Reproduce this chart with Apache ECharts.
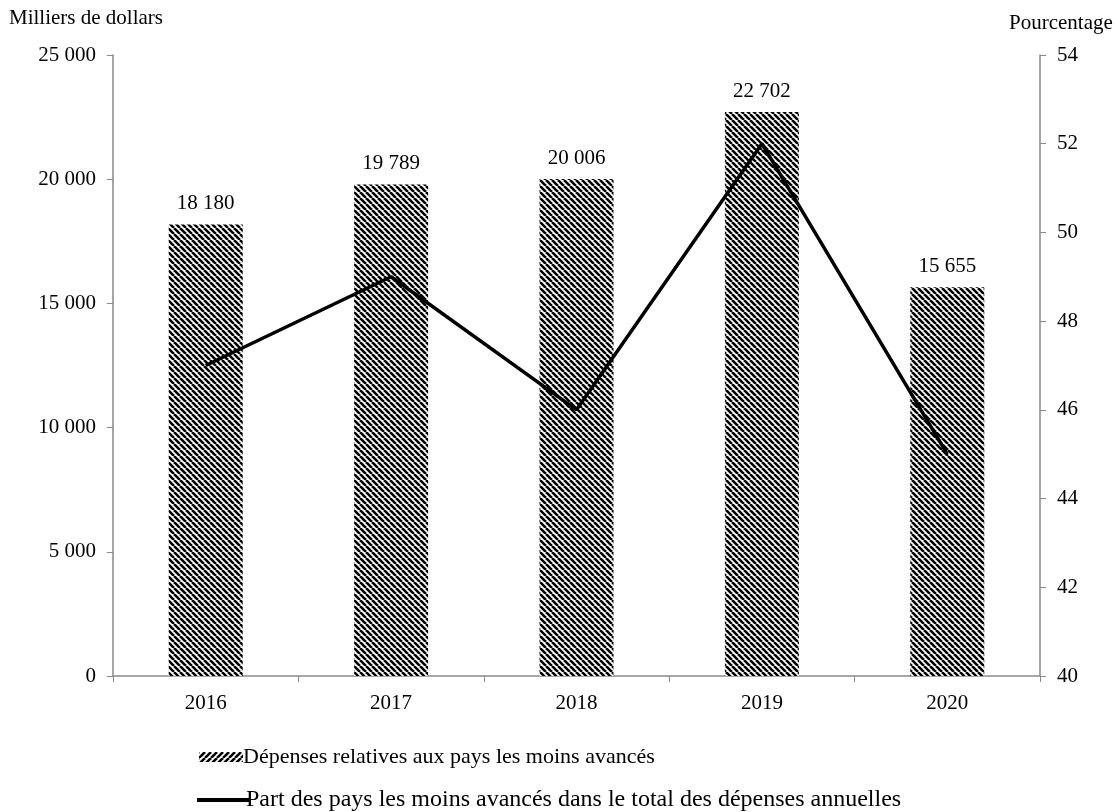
<!DOCTYPE html>
<html><head><meta charset="utf-8">
<script src="https://cdn.jsdelivr.net/npm/echarts@6/dist/echarts.min.js"></script>
<style>html,body{margin:0;padding:0;background:#fff}#c{width:1115px;height:812px}</style>
</head><body><div id="c"></div>
<script>
const categories = ['2016','2017','2018','2019','2020'];
const depenses = [18180, 19789, 20006, 22702, 15655];
const part = [47, 49, 46, 52, 45];
const barName = 'Dépenses relatives aux pays les moins avancés';
const lineName = 'Part des pays les moins avancés dans le total des dépenses annuelles';

function makePattern(dir, size, lw) {
  const c = document.createElement('canvas');
  c.width = size; c.height = size;
  const g = c.getContext('2d');
  g.fillStyle = '#fff'; g.fillRect(0,0,size,size);
  g.strokeStyle = '#000'; g.lineWidth = lw;
  g.beginPath();
  for (let k = -1; k <= 1; k++) {
    if (dir === '\\') { g.moveTo(k*size, 0); g.lineTo(k*size+size, size); }
    else { g.moveTo(k*size, size); g.lineTo(k*size+size, 0); }
  }
  g.stroke();
  return c;
}
const barPat = {image: makePattern('\\', 6, 2.6), repeat: 'repeat'};
const legPat = {image: makePattern('/', 6, 2.6), repeat: 'repeat'};
const fmt = v => String(v).replace(/\B(?=(\d{3})+(?!\d))/g, ' ');
const font = 'Liberation Serif';
const FS = 21;
const chart = echarts.init(document.getElementById('c'));
chart.setOption({
  animation: false,
  textStyle: {fontFamily: font},
  grid: {left: 113, right: 75, top: 55, bottom: 136},
  graphic: [
    {type: 'text', left: 9, top: 8, style: {text: 'Milliers de dollars', font: '21px "Liberation Serif"', fill: '#000'}},
    {type: 'text', left: 1009, top: 13, style: {text: 'Pourcentage', font: '21px "Liberation Serif"', fill: '#000'}}
  ],
  legend: [
    {data: [{name: barName, itemStyle: {color: legPat}}], left: 194, top: 741, orient: 'vertical', itemWidth: 44, itemHeight: 10, itemGap: 4, icon: 'rect',
     textStyle: {fontFamily: font, fontSize: 22, color: '#000', padding: [0,0,0,-5]}},
    {data: [{name: lineName, icon: 'rect'}], left: 192, top: 783, itemWidth: 52, itemHeight: 4, itemGap: 0,
     textStyle: {fontFamily: font, fontSize: 24, color: '#000', padding: [0,0,0,-8]}}
  ],
  xAxis: {
    type: 'category', data: categories, boundaryGap: true,
    axisLine: {lineStyle: {color: '#898989', width: 1.5}},
    axisTick: {show: true, alignWithLabel: false, length: 6, lineStyle: {color: '#898989'}},
    axisLabel: {color: '#000', fontSize: FS, fontFamily: font, margin: 17}
  },
  yAxis: [
    {type: 'value', min: 0, max: 25000, interval: 5000, position: 'left',
     axisLine: {show: true, lineStyle: {color: '#898989', width: 1.5}},
     axisTick: {show: true, length: 6, lineStyle: {color: '#898989'}},
     splitLine: {show: false},
     axisLabel: {color: '#000', fontSize: FS, fontFamily: font, margin: 17, formatter: fmt}},
    {type: 'value', min: 40, max: 54, interval: 2, position: 'right',
     axisLine: {show: true, lineStyle: {color: '#898989', width: 1.5}},
     axisTick: {show: true, length: 6, lineStyle: {color: '#898989'}},
     splitLine: {show: false},
     axisLabel: {color: '#000', fontSize: FS, fontFamily: font, margin: 17}}
  ],
  series: [
    {name: barName, type: 'bar', data: depenses, barWidth: 74, itemStyle: {color: barPat},
     label: {show: true, position: 'top', distance: 10, color: '#000', fontSize: FS, fontFamily: font, formatter: p => fmt(p.value)}},
    {name: lineName, type: 'line', yAxisIndex: 1, data: part, symbol: 'none',
     lineStyle: {color: '#000', width: 3.5}, itemStyle: {color: '#000'}}
  ]
});
</script></body></html>
